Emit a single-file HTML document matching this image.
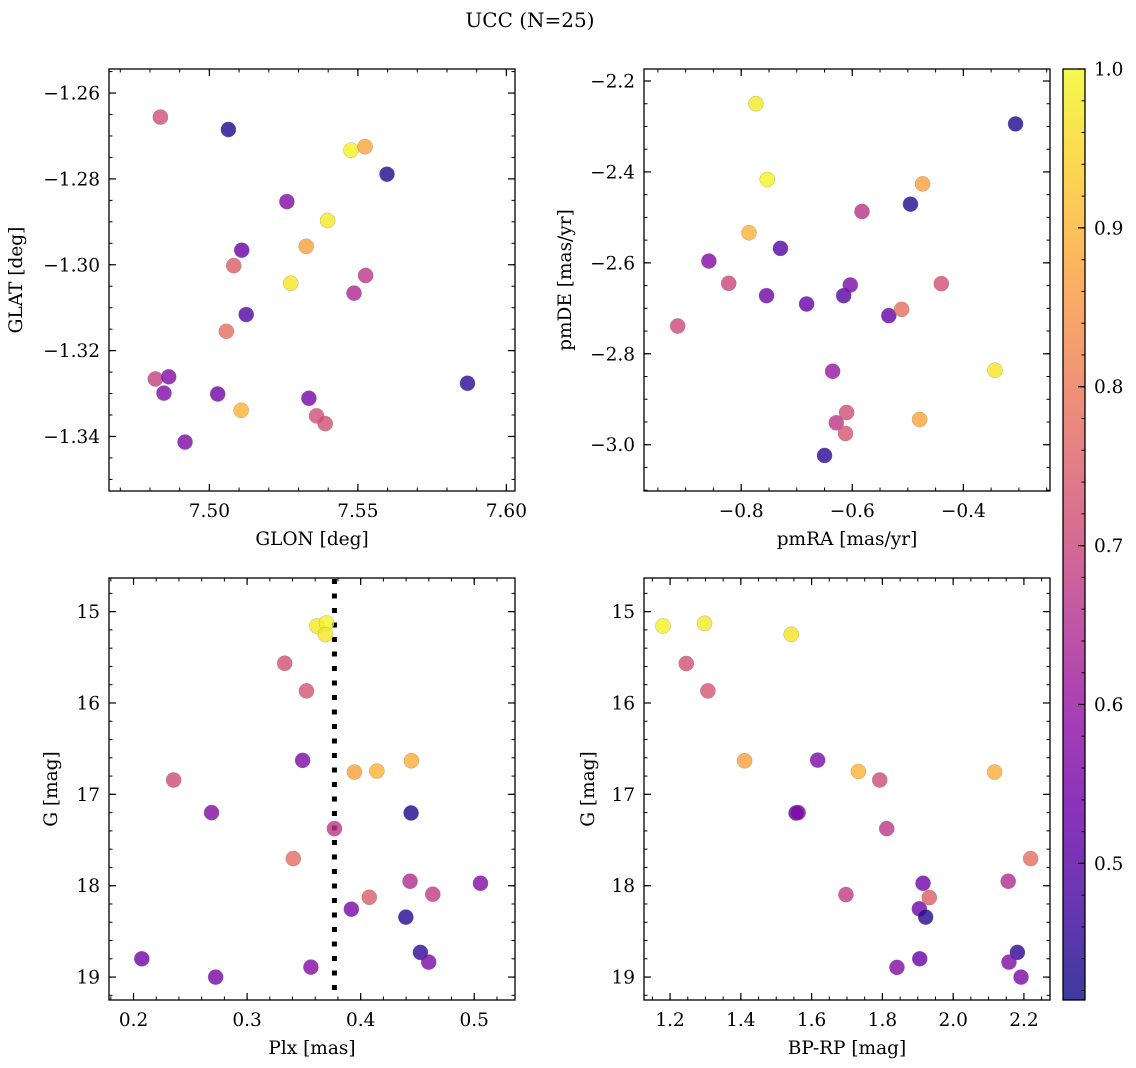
<!DOCTYPE html>
<html><head><meta charset="utf-8"><style>
html,body{margin:0;padding:0;background:#fff}
svg{display:block;font-family:"DejaVu Serif","Liberation Serif",serif}
</style></head><body>
<svg id="fig" width="1136" height="1068" viewBox="0 0 1136 1068">
<defs>
<linearGradient id="plasmaGrad" x1="0" y1="1" x2="0" y2="0">
<stop offset="0" stop-color="#0d0887"/><stop offset="0.1" stop-color="#41049d"/><stop offset="0.2" stop-color="#6a00a8"/><stop offset="0.3" stop-color="#8f0da4"/><stop offset="0.4" stop-color="#b12a90"/><stop offset="0.5" stop-color="#cc4778"/><stop offset="0.6" stop-color="#e16462"/><stop offset="0.7" stop-color="#f2844b"/><stop offset="0.8" stop-color="#fca636"/><stop offset="0.9" stop-color="#fcce25"/><stop offset="1" stop-color="#f0f921"/>
</linearGradient>
</defs>
<text x="530" y="27" font-size="20" text-anchor="middle">UCC (N=25)</text>
</svg>
<script>
// ---- data ----
const glon = [7.4835,7.5064,7.5477,7.5524,7.5598,7.5261,7.5398,7.5326,7.5109,7.5082,7.5274,7.5526,7.5487,7.5124,7.5057,7.4818,7.4863,7.4847,7.5028,7.5107,7.4918,7.5335,7.5361,7.5390,7.5869];
const glat = [-1.2656,-1.2685,-1.2733,-1.2725,-1.2789,-1.2853,-1.2897,-1.2957,-1.2966,-1.3002,-1.3043,-1.3025,-1.3066,-1.3116,-1.3155,-1.3266,-1.3261,-1.3299,-1.3301,-1.3339,-1.3413,-1.3311,-1.3352,-1.3370,-1.3276];
const probA = [0.72,0.43,0.99,0.88,0.44,0.57,0.98,0.87,0.53,0.75,0.97,0.67,0.64,0.50,0.78,0.69,0.57,0.57,0.54,0.90,0.56,0.55,0.72,0.72,0.45];

const pmra = [-0.7736,-0.306,-0.753,-0.4734,-0.4952,-0.5825,-0.786,-0.7293,-0.8582,-0.8225,-0.4397,-0.7544,-0.6823,-0.6155,-0.6036,-0.5342,-0.5111,-0.9144,-0.6354,-0.3431,-0.6102,-0.6288,-0.6122,-0.4787,-0.6499];
const pmde = [-2.2498,-2.2944,-2.4167,-2.4262,-2.4709,-2.487,-2.5338,-2.5682,-2.596,-2.645,-2.6458,-2.6722,-2.6905,-2.6722,-2.6487,-2.7161,-2.7022,-2.7388,-2.8384,-2.8361,-2.9291,-2.9518,-2.9752,-2.9445,-3.0236];
const probB = [0.98,0.43,0.99,0.87,0.44,0.66,0.90,0.50,0.57,0.70,0.72,0.54,0.53,0.50,0.56,0.53,0.78,0.71,0.60,0.97,0.72,0.67,0.73,0.88,0.45];

const plx = [0.3614,0.3699,0.369,0.3331,0.3523,0.3489,0.3945,0.4143,0.4447,0.2353,0.2687,0.4444,0.3769,0.3407,0.4435,0.5055,0.4635,0.4076,0.3918,0.4398,0.4526,0.4599,0.2073,0.2723,0.3562];
const gmagC = [15.157,15.124,15.251,15.565,15.867,16.628,16.756,16.745,16.632,16.843,17.200,17.204,17.375,17.703,17.951,17.973,18.093,18.126,18.257,18.344,18.730,18.836,18.80,19.0,18.891];
const probC = [0.98,0.99,0.97,0.72,0.73,0.56,0.87,0.90,0.89,0.71,0.57,0.43,0.67,0.78,0.65,0.57,0.68,0.75,0.55,0.44,0.45,0.56,0.54,0.55,0.57];
const plxMedian = [0.3769];

const bprp = [1.180,1.2975,1.5424,1.2457,1.3069,1.4106,1.6171,1.7323,1.7925,2.1172,1.556,1.562,1.8122,2.2189,2.1556,1.9149,1.697,1.9326,1.9045,1.9222,2.1816,2.1577,1.9056,1.8412,2.1919];
const gmagD = [15.157,15.128,15.248,15.568,15.867,16.632,16.625,16.749,16.843,16.756,17.204,17.2,17.375,17.703,17.951,17.973,18.097,18.129,18.253,18.344,18.730,18.836,18.80,18.894,19.0];
const probD = [0.99,0.98,0.97,0.72,0.73,0.87,0.56,0.90,0.71,0.89,0.50,0.57,0.67,0.78,0.65,0.54,0.68,0.75,0.54,0.44,0.45,0.57,0.53,0.57,0.56];

const ticksGlon = [7.50,7.55,7.60];
const ticksGlat = [-1.26,-1.28,-1.30,-1.32,-1.34];
const ticksPmra = [-0.8,-0.6,-0.4];
const ticksPmde = [-2.2,-2.4,-2.6,-2.8,-3.0];
const ticksPlx = [0.2,0.3,0.4,0.5];
const ticksG = [15,16,17,18,19];
const ticksBprp = [1.2,1.4,1.6,1.8,2.0,2.2];
const ticksCbar = [0.5,0.6,0.7,0.8,0.9,1.0];
const cbarRange = [0.414,1.0];

// ---- helpers ----
const NS = "http://www.w3.org/2000/svg";
const svg = document.getElementById('fig');
const FS = 18.5;
function mk(tag, attrs, parent){
  const e = document.createElementNS(NS, tag);
  for (const k in attrs) e.setAttribute(k, attrs[k]);
  (parent||svg).appendChild(e);
  return e;
}
const stops = ["#0d0887","#41049d","#6a00a8","#8f0da4","#b12a90","#cc4778","#e16462","#f2844b","#fca636","#fcce25","#f0f921"];
function hex(h){return [parseInt(h.substr(1,2),16),parseInt(h.substr(3,2),16),parseInt(h.substr(5,2),16)];}
function plasma(p){
  let t = (p - cbarRange[0])/(cbarRange[1]-cbarRange[0]);
  t = Math.max(0, Math.min(1, t));
  const f = t*10, i = Math.min(9, Math.floor(f)), r = f - i;
  const a = hex(stops[i]), b = hex(stops[i+1]);
  return 'rgb(' + a.map((v,k)=>Math.round(v+(b[k]-v)*r)).join(',') + ')';
}
function fmt(v, d){ const s = Math.abs(v).toFixed(d); return (v < 0 ? '\u2212' : '') + s; }

function drawPanel(cfg){
  const g = mk('g', {});
  
  
  const sx = v => cfg.x0 + (v - cfg.xr[0])/(cfg.xr[1]-cfg.xr[0])*(cfg.x1-cfg.x0);
  const sy = v => cfg.y0 + (v - cfg.yr[0])/(cfg.yr[1]-cfg.yr[0])*(cfg.y1-cfg.y0);
  const lo = Math.min(cfg.xr[0],cfg.xr[1]), hi = Math.max(cfg.xr[0],cfg.xr[1]);
  for (let k = Math.ceil(lo/cfg.xminor-1e-6); k*cfg.xminor <= hi+1e-9; k++){
    const x = sx(k*cfg.xminor);
    mk('line',{x1:x,x2:x,y1:cfg.y1,y2:cfg.y1-3.5,stroke:'#000','stroke-width':1},g);
    mk('line',{x1:x,x2:x,y1:cfg.y0,y2:cfg.y0+3.5,stroke:'#000','stroke-width':1},g);
  }
  const ylo = Math.min(cfg.yr[0],cfg.yr[1]), yhi = Math.max(cfg.yr[0],cfg.yr[1]);
  for (let k = Math.ceil(ylo/cfg.yminor-1e-6); k*cfg.yminor <= yhi+1e-9; k++){
    const y = sy(k*cfg.yminor);
    mk('line',{x1:cfg.x0,x2:cfg.x0+3.5,y1:y,y2:y,stroke:'#000','stroke-width':1},g);
    mk('line',{x1:cfg.x1,x2:cfg.x1-3.5,y1:y,y2:y,stroke:'#000','stroke-width':1},g);
  }
  cfg.xt.forEach(v=>{
    const x = sx(v);
    mk('line',{x1:x,x2:x,y1:cfg.y1,y2:cfg.y1-7,stroke:'#000','stroke-width':1.2},g);
    mk('line',{x1:x,x2:x,y1:cfg.y0,y2:cfg.y0+7,stroke:'#000','stroke-width':1.2},g);
    const t = mk('text',{x:x,y:cfg.y1+26,'font-size':FS,'text-anchor':'middle'},g);
    t.textContent = fmt(v, cfg.xd);
    
    
  });
  cfg.yt.forEach(v=>{
    const y = sy(v);
    mk('line',{x1:cfg.x0,x2:cfg.x0+7,y1:y,y2:y,stroke:'#000','stroke-width':1.2},g);
    mk('line',{x1:cfg.x1,x2:cfg.x1-7,y1:y,y2:y,stroke:'#000','stroke-width':1.2},g);
    const t = mk('text',{x:cfg.x0-9,y:y+6.5,'font-size':FS,'text-anchor':'end'},g);
    t.textContent = fmt(v, cfg.yd);
    
    
  });
  if (cfg.vline){
    const x = sx(cfg.vline[0]);
    const l = mk('line',{x1:x,x2:x,y1:cfg.y0+1,y2:cfg.y1,stroke:'#000','stroke-width':5,'stroke-dasharray':'5 9.5'},g);
    
    
  }
  cfg.xs.forEach((xv,i)=>{
    const c = mk('circle',{cx:sx(xv),cy:sy(cfg.ys[i]),r:7.6,fill:plasma(cfg.ps[i]),'fill-opacity':0.8,stroke:'#777','stroke-opacity':0.5,'stroke-width':0.5},g);
    
    
  });
  const fr = mk('rect',{x:cfg.x0,y:cfg.y0,width:cfg.x1-cfg.x0,height:cfg.y1-cfg.y0,fill:'none',stroke:'#000','stroke-width':1.3},g);
  
  
  const xl = mk('text',{x:(cfg.x0+cfg.x1)/2,y:cfg.y1+54,'font-size':FS,'text-anchor':'middle'},g);
  xl.textContent = cfg.xlabel;
  
  
  const yc = (cfg.y0+cfg.y1)/2;
  const yl = mk('text',{x:cfg.ylx,y:yc,'font-size':FS,'text-anchor':'middle',transform:'rotate(-90 '+cfg.ylx+' '+yc+')'},g);
  yl.textContent = cfg.ylabel;
  
  
}

drawPanel({name:'glon-glat-panel',x0:109,x1:515,y0:69,y1:491,xr:[7.4662,7.6029],yr:[-1.2544,-1.3527],
  xt:ticksGlon,yt:ticksGlat,xd:2,yd:2,xminor:0.01,yminor:0.005,xs:glon,ys:glat,ps:probA,
  xlabel:'GLON [deg]',ylabel:'GLAT [deg]',ylx:22});
drawPanel({name:'pm-panel',x0:644,x1:1050,y0:69,y1:491,xr:[-0.975,-0.244],yr:[-2.1736,-3.1018],
  xt:ticksPmra,yt:ticksPmde,xd:1,yd:1,xminor:0.05,yminor:0.05,xs:pmra,ys:pmde,ps:probB,
  xlabel:'pmRA [mas/yr]',ylabel:'pmDE [mas/yr]',ylx:571});
drawPanel({name:'plx-g-panel',x0:109,x1:515,y0:578,y1:1000,xr:[0.1784,0.5359],yr:[14.632,19.251],
  xt:ticksPlx,yt:ticksG,xd:1,yd:0,xminor:0.02,yminor:0.2,xs:plx,ys:gmagC,ps:probC,vline:plxMedian,
  xlabel:'Plx [mas]',ylabel:'G [mag]',ylx:57});
drawPanel({name:'cmd-panel',x0:644,x1:1050,y0:578,y1:1000,xr:[1.1263,2.2737],yr:[14.632,19.251],
  xt:ticksBprp,yt:ticksG,xd:1,yd:0,xminor:0.05,yminor:0.2,xs:bprp,ys:gmagD,ps:probD,
  xlabel:'BP-RP [mag]',ylabel:'G [mag]',ylx:594});

// colorbar
const cb = {x0:1063,x1:1085,y0:69,y1:1000};
const cg = mk('g',{});


mk('rect',{x:cb.x0,y:cb.y0,width:cb.x1-cb.x0,height:cb.y1-cb.y0,fill:'url(#plasmaGrad)','fill-opacity':0.8},cg);
const cy = v => cb.y1 - (v - cbarRange[0])/(cbarRange[1]-cbarRange[0])*(cb.y1-cb.y0);
for (let k = Math.ceil(cbarRange[0]/0.02); k*0.02 <= cbarRange[1]+1e-9; k++){
  const y = cy(k*0.02);
  mk('line',{x1:cb.x1,x2:cb.x1-3.5,y1:y,y2:y,stroke:'#000','stroke-width':1},cg);
}
ticksCbar.forEach(v=>{
  const y = cy(v);
  mk('line',{x1:cb.x1,x2:cb.x1-7,y1:y,y2:y,stroke:'#000','stroke-width':1.2},cg);
  const t = mk('text',{x:cb.x1+9,y:y+6.5,'font-size':FS},cg);
  t.textContent = v.toFixed(1);
  
  
});
mk('rect',{x:cb.x0,y:cb.y0,width:cb.x1-cb.x0,height:cb.y1-cb.y0,fill:'none',stroke:'#000','stroke-width':1.3},cg);
</script>
</body></html>
